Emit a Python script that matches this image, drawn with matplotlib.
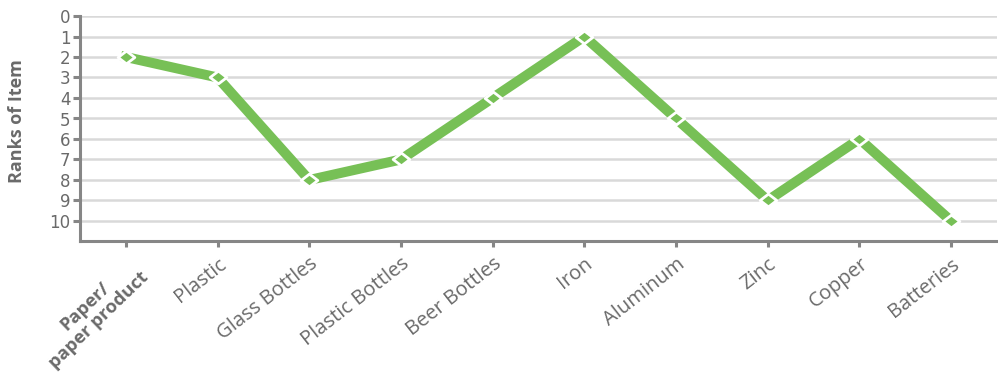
import matplotlib
matplotlib.use("Agg")
import matplotlib.pyplot as plt
from matplotlib.path import Path

items = ["Paper/\npaper product", "Plastic", "Glass Bottles", "Plastic Bottles",
         "Beer Bottles", "Iron", "Aluminum", "Zinc", "Copper", "Batteries"]
ranks = [2, 3, 8, 7, 4, 1, 5, 9, 6, 10]
rank_ticks = list(range(0, 11))

GREEN = "#77C056"
AXIS = "#868686"
TEXT = "#6A6A6A"
GRID = "#D9D9D9"

plt.rcParams["font.family"] = ["Open Sans", "DejaVu Sans"]

# slightly flattened diamond marker
wide_diamond = Path([(-1.3, 0), (0, 1), (1.3, 0), (0, -1), (-1.3, 0)],
                    [Path.MOVETO, Path.LINETO, Path.LINETO, Path.LINETO,
                     Path.CLOSEPOLY])

fig = plt.figure(figsize=(9.98, 3.78), dpi=100)
ax = fig.add_axes([80 / 998, 1 - 241.5 / 378, 917 / 998, 225.5 / 378])

x = list(range(len(items)))
ax.plot(x, ranks, color=GREEN, linewidth=7.2, solid_joinstyle="miter",
        marker=wide_diamond, markersize=12, markerfacecolor=GREEN,
        markeredgecolor="white", markeredgewidth=2, zorder=3)

ax.set_xlim(-0.5, len(items) - 0.5)
ax.set_ylim(11, 0)
ax.set_yticks(rank_ticks)
ax.set_yticklabels([str(v) for v in rank_ticks], fontsize=12, color=TEXT,
                   family="DejaVu Sans")
ax.set_xticks(x)
ax.set_xticklabels(items, fontsize=14.5, color=TEXT, rotation=38,
                   ha="right", va="top", rotation_mode="anchor",
                   multialignment="center", linespacing=1.0)
first = ax.get_xticklabels()[0]
first.set_fontweight("bold")
first.set_fontsize(13.2)
first.set_rotation(44)
first.set_linespacing(1.15)

ax.grid(axis="y", color=GRID, linewidth=1.8, zorder=0)
ax.set_axisbelow(True)
for side in ("top", "right"):
    ax.spines[side].set_visible(False)
for side in ("left", "bottom"):
    ax.spines[side].set_color(AXIS)
    ax.spines[side].set_linewidth(2.2)
ax.tick_params(axis="both", direction="out", color=AXIS, width=2.2)
ax.tick_params(axis="y", length=5, pad=2)
ax.tick_params(axis="x", length=4, pad=5)

ax.set_ylabel("Ranks of Item", fontsize=13, fontweight="bold", color=TEXT)
ax.yaxis.set_label_coords(-0.0589, 0.532)

fig.savefig("out.png", dpi=100)
